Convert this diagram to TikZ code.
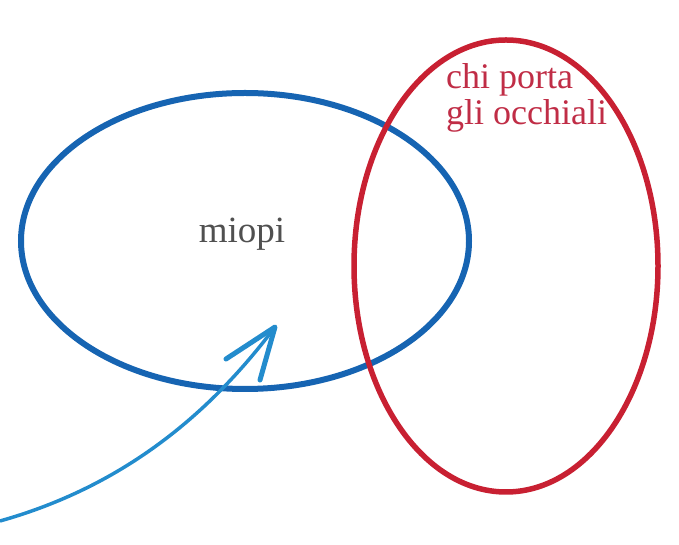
\documentclass[tikz,border=0pt]{standalone}
\usepackage{fontspec}
\setmainfont{Liberation Serif}
\definecolor{setblue}{RGB}{22,100,178}
\definecolor{setred}{RGB}{200,32,50}
\definecolor{arrowblue}{RGB}{35,140,205}
\definecolor{labelred}{RGB}{192,45,70}
\definecolor{labelgray}{RGB}{80,80,80}
\begin{document}
\begin{tikzpicture}[x=1pt,y=1pt,
  setline/.style={line width=6pt},
  setlabel/.style={inner sep=0pt,font=\fontsize{36}{36}\selectfont}]
\useasboundingbox (0,0) rectangle (679,545);
% the two sets
\draw[setline,setblue] (245,304) ellipse [x radius=224, y radius=148];
\draw[setline,setred,line width=5.5pt] (506,279) ellipse [x radius=152, y radius=226];
% labels
\node[setlabel,labelgray,font=\fontsize{37}{37}\selectfont,anchor=base] (miopi) at (242,302) {miopi};
\node[setlabel,labelred,anchor=north west,align=left] (occhiali) at (446,482) {chi porta\\gli occhiali};
% pointer arrow
\coordinate (start) at (0,24);
\coordinate (tip) at (275,218);
\draw[arrowblue,line width=3.5pt] (start) .. controls (110,55) and (200,118) .. (tip);
\draw[arrowblue,line width=5pt,line cap=round,line join=round]
  (tip) ++(-49,-32) -- (tip) -- ++(-15,-53);
\end{tikzpicture}
\end{document}
